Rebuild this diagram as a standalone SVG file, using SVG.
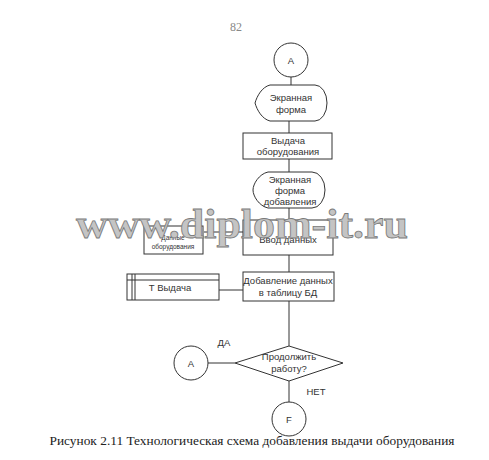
<svg xmlns="http://www.w3.org/2000/svg" width="489" height="460" viewBox="0 0 489 460">
<style>
.s{fill:#fff;stroke:#333;stroke-width:1}
.c{fill:none;stroke:#333;stroke-width:1}
.t{font-family:"Liberation Sans",Arial,sans-serif;font-size:9.5px;fill:#333;text-anchor:middle}
.ts{font-family:"Liberation Sans",Arial,sans-serif;font-size:6.5px;fill:#333;text-anchor:middle}
</style>
<rect width="489" height="460" fill="#fff"/>
<text x="236" y="31" font-family="Liberation Serif,serif" font-size="12" fill="#888" text-anchor="middle">82</text>
<g id="connectors">
<line class="c" x1="291" y1="77" x2="291" y2="85"/>
<line class="c" x1="289" y1="121" x2="289" y2="133"/>
<line class="c" x1="289" y1="159" x2="289" y2="172"/>
<line class="c" x1="289" y1="208" x2="289" y2="220"/>
<line class="c" x1="289" y1="255" x2="289" y2="272"/>
<line class="c" x1="204" y1="232" x2="243" y2="232"/>
<line class="c" x1="219" y1="290" x2="243" y2="290"/>
<line class="c" x1="289" y1="301" x2="289" y2="346"/>
<line class="c" x1="208" y1="363" x2="235" y2="363"/>
<line class="c" x1="289" y1="381" x2="289" y2="402"/>
</g>
<g id="startA">
<circle class="s" cx="291" cy="60" r="17"/>
<text class="t" x="291" y="64">A</text>
</g>
<g id="screen1">
<path class="s" d="M270,85 L315,85 A12,18 0 0 1 315,121 L270,121 C262,119 257,110 255,103 C257,96 262,87 270,85 Z"/>
<text class="t" x="291" y="101">Экранная</text>
<text class="t" x="291" y="113">форма</text>
</g>
<g id="issue">
<rect class="s" x="243" y="133" width="89" height="26"/>
<text class="t" x="288" y="144">Выдача</text>
<text class="t" x="288" y="155">оборудования</text>
</g>
<g id="screen2">
<path class="s" d="M268,172 L312,172 A13,18 0 0 1 312,208 L268,208 C259,206 253,196 253,190 C253,184 259,174 268,172 Z"/>
<text class="t" x="290" y="183">Экранная</text>
<text class="t" x="290" y="194">форма</text>
<text class="t" x="290" y="205">добавления</text>
</g>
<g id="data">
<rect class="s" x="144" y="226" width="59" height="28"/>
<text class="ts" x="173" y="240">Данные</text>
<text class="ts" x="173" y="249">оборудования</text>
</g>
<g id="input">
<rect class="s" x="243" y="220" width="90" height="35"/>
<text class="t" x="288" y="243">Ввод данных</text>
</g>
<g id="table">
<rect class="s" x="127" y="274" width="92" height="26"/>
<line class="c" x1="127" y1="280" x2="219" y2="280"/>
<line class="c" x1="132" y1="274" x2="132" y2="300"/>
<line class="c" x1="135" y1="274" x2="135" y2="300"/>
<text class="t" x="170" y="291">Т Выдача</text>
</g>
<g id="add">
<rect class="s" x="243" y="272" width="91" height="29"/>
<text class="t" x="288" y="284">Добавление данных</text>
<text class="t" x="288" y="296">в таблицу БД</text>
</g>
<g id="decision">
<polygon class="s" points="289,346 343,363 289,381 235,363"/>
<text class="t" x="289" y="360">Продолжить</text>
<text class="t" x="289" y="372">работу?</text>
<text class="t" x="224" y="346">ДА</text>
<text class="t" x="316" y="395">НЕТ</text>
</g>
<g id="connA">
<circle class="s" cx="191" cy="363" r="17"/>
<text class="t" x="191" y="367">A</text>
</g>
<g id="endF">
<circle class="s" cx="289" cy="419" r="17"/>
<text class="t" x="289" y="423">F</text>
</g>
<text x="242" y="238" font-family="Liberation Serif,serif" font-size="42" font-weight="bold" fill="#c4c4c4" stroke="#7a7a7a" stroke-width="0.8" text-anchor="middle" textLength="332" lengthAdjust="spacingAndGlyphs">www.diplom-it.ru</text>
<text x="252" y="445" font-family="Liberation Serif,serif" font-size="13.5" fill="#222" text-anchor="middle" textLength="405" lengthAdjust="spacingAndGlyphs">Рисунок 2.11 Технологическая схема добавления выдачи оборудования</text>
</svg>
